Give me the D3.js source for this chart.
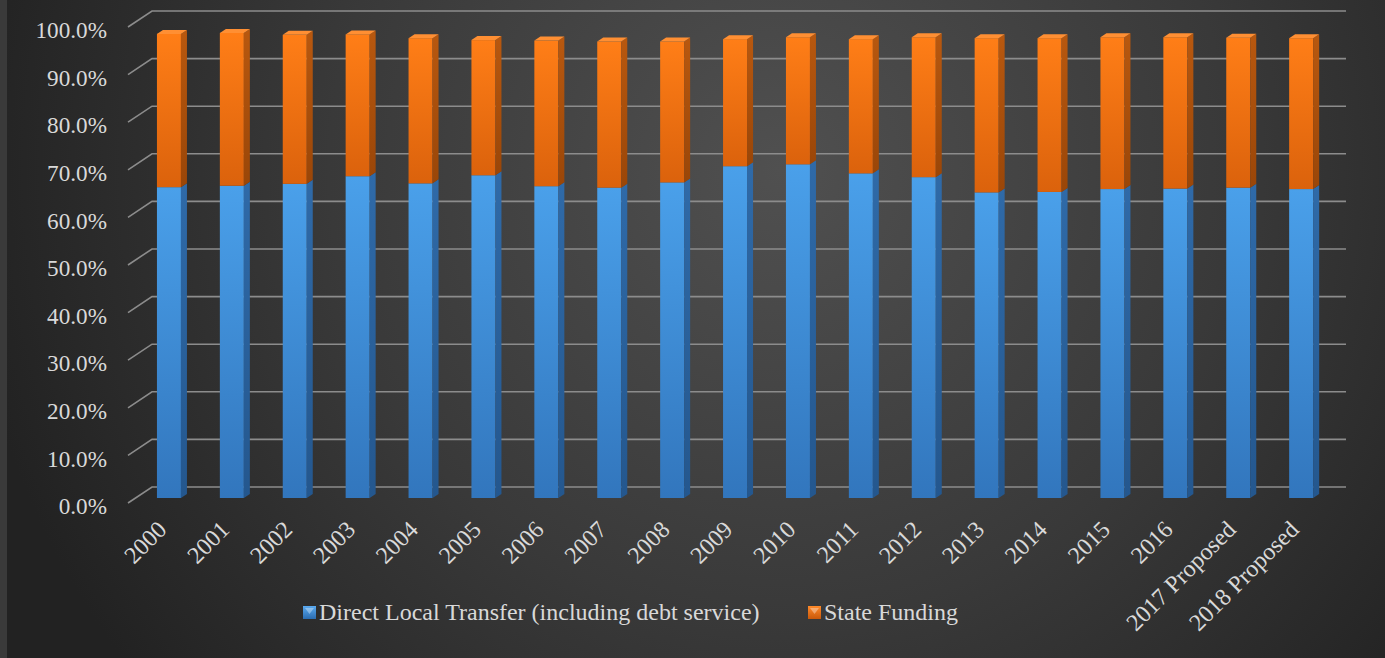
<!DOCTYPE html>
<html><head><meta charset="utf-8">
<script src="https://cdn.jsdelivr.net/npm/d3@7"></script>
<style>html,body{margin:0;padding:0;background:#2b2b2b;} svg{display:block;}</style>
</head><body><svg id="c" width="1385" height="658"></svg>
<script>
const categories = ["2000","2001","2002","2003","2004","2005","2006","2007","2008","2009","2010","2011","2012","2013","2014","2015","2016","2017 Proposed","2018 Proposed"];
const directLocal = [65.3,65.6,66.0,67.6,66.1,67.8,65.5,65.2,66.3,69.7,70.1,68.2,67.4,64.2,64.3,64.9,65.0,65.2,64.9];
const stateFunding = [32.2,32.1,31.3,29.8,30.5,28.4,30.6,30.7,29.6,26.7,26.7,28.2,29.4,32.4,32.3,31.9,31.8,31.5,31.7];
const yTicks = [0,10,20,30,40,50,60,70,80,90,100];
const seriesNames = ["Direct Local Transfer (including debt service)","State Funding"];
const seriesKeys = ["direct","state"];

const W = 1385, H = 658;
const svg = d3.select("#c");
const defs = svg.append("defs");

const bg = defs.append("radialGradient").attr("id","bg").attr("gradientUnits","userSpaceOnUse")
  .attr("cx",780).attr("cy",170).attr("r",820);
bg.append("stop").attr("offset",0).attr("stop-color","#505050");
bg.append("stop").attr("offset",0.55).attr("stop-color","#393939");
bg.append("stop").attr("offset",1).attr("stop-color","#222222");

function lin(id, c1, c2){
  const g = defs.append("linearGradient").attr("id",id).attr("x1",0).attr("y1",0).attr("x2",0).attr("y2",1);
  g.append("stop").attr("offset",0).attr("stop-color",c1);
  g.append("stop").attr("offset",1).attr("stop-color",c2);
}
lin("blueF","#4aa0ea","#3276bd");
lin("blueS","#2f6aa8","#24578e");
lin("orF","#ff7e17","#db620c");
lin("orS","#b8580f","#9a4608");
lin("legB","#5aaaf0","#2b6cb0");
lin("legO","#ff8a2a","#c9580a");

svg.append("rect").attr("width",W).attr("height",H).attr("fill","#3a3a3a");
svg.append("rect").attr("x",7).attr("width",W-7).attr("height",H).attr("fill","url(#bg)");

const data = categories.map((c,i)=>({cat:c, direct:directLocal[i], state:stateFunding[i]}));
const stacked = d3.stack().keys(seriesKeys)(data);

const x = d3.scaleBand().domain(categories).range([137.5, 1332.6]).padding(0);
const yBack = d3.scaleLinear().domain([0,100]).range([487,11]);
const yBar = d3.scaleLinear().domain([0,100]).range([498,22]);
const dx = 24, dy = 16;     // depth of floor (front to back)
const bdx = 6, bdy = 4;     // bar depth

// gridlines + diagonal ticks
const grid = svg.append("g");
yTicks.forEach(t=>{
  const yb = yBack(t);
  grid.append("path")
    .attr("d",`M${152-dx},${yb+dy} L152,${yb} L1346,${yb}`)
    .attr("fill","none").attr("stroke","#8c8c8c").attr("stroke-width",1.6);
});

// y labels
const tfont = "'Liberation Serif','Times New Roman',serif";
svg.append("g").selectAll("text").data(yTicks).join("text")
  .attr("x",107).attr("y",d=>yBack(d)+dy+3)
  .attr("dy","0.35em").attr("text-anchor","end")
  .attr("font-family",tfont).attr("font-size",23.2).attr("fill","#d9d9d9")
  .text(d=>d3.format(".1f")(d)+"%");

// bars
const bw = 24;
const fills = {direct:["url(#blueF)","url(#blueS)"], state:["url(#orF)","url(#orS)"]};
const bars = svg.append("g");
stacked.forEach((s,si)=>{
  const key = s.key;
  s.forEach((d)=>{
    const cx = x(d.data.cat) + x.bandwidth()/2;
    const x0 = cx - bw/2, x1 = cx + bw/2;
    const yt = yBar(d[1]), yb = yBar(d[0]);
    const g = bars.append("g");
    g.append("rect").attr("x",x0).attr("y",yt).attr("width",bw).attr("height",yb-yt).attr("fill",fills[key][0]);
    g.append("path").attr("d",`M${x1},${yt} L${x1+bdx},${yt-bdy} L${x1+bdx},${yb-bdy} L${x1},${yb} Z`).attr("fill",fills[key][1]);
    if(si===stacked.length-1){
      g.append("path").attr("d",`M${x0},${yt} L${x0+bdx},${yt-bdy} L${x1+bdx},${yt-bdy} L${x1},${yt} Z`).attr("fill","#ff8f33");
    }
  });
});

// x labels
svg.append("g").selectAll("text").data(categories).join("text")
  .attr("transform",d=>`translate(${x(d)+x.bandwidth()/2-1},${531}) rotate(-45)`)
  .attr("text-anchor","end")
  .attr("font-family",tfont).attr("font-size",24).attr("fill","#d9d9d9")
  .text(d=>d);

// legend
const leg = svg.append("g");
const legItems = [{name:seriesNames[0], x:303, fill:"url(#legB)"},{name:seriesNames[1], x:808, fill:"url(#legO)"}];
legItems.forEach(it=>{
  leg.append("rect").attr("x",it.x).attr("y",606).attr("width",13).attr("height",13).attr("fill",it.fill);
  leg.append("path").attr("d",`M${it.x+2},${608} L${it.x+11},${608} L${it.x+6.5},${614} Z`).attr("fill","#ffffff").attr("opacity",0.35);
  leg.append("text").attr("x",it.x+16).attr("y",612).attr("dy","0.35em")
    .attr("font-family",tfont).attr("font-size",24).attr("fill","#d9d9d9").text(it.name);
});
</script></body></html>
